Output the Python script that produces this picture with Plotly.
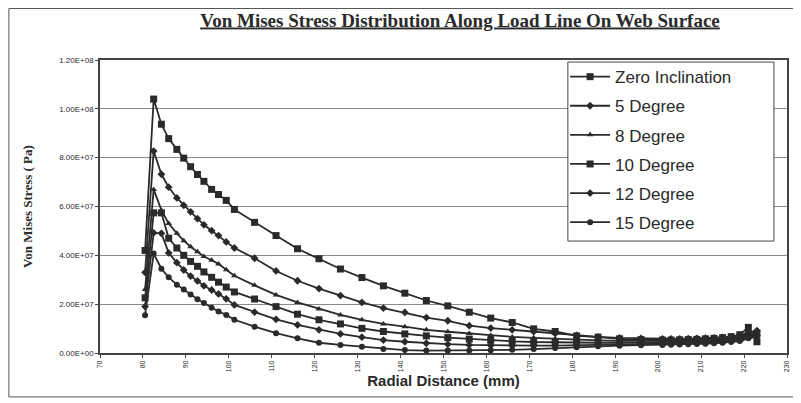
import plotly.graph_objects as go

# Radial distance (mm)
radial_mm = [80.5, 82.5, 84.3, 86, 87.9, 89.5, 91.1, 92.7, 94.2, 96, 97.6, 99.4, 101.3,
             106, 111, 116, 121, 126, 131, 136, 141, 146, 151, 156, 161, 166, 171, 176,
             181, 186, 191, 196, 201, 203, 205, 207, 209, 211, 213, 215, 217, 219, 221, 223]

# Von Mises stress (Pa)
zero_incl = [4.2e7, 10.4e7, 9.37e7, 8.78e7, 8.34e7, 7.98e7, 7.63e7, 7.31e7, 7.03e7, 6.70e7, 6.49e7,
             6.25e7, 5.88e7, 5.35e7, 4.81e7, 4.27e7, 3.86e7, 3.44e7, 3.09e7, 2.75e7, 2.45e7, 2.15e7,
             1.93e7, 1.67e7, 1.43e7, 1.25e7, 0.99e7, 0.88e7, 0.70e7, 0.65e7, 0.58e7, 0.55e7, 0.53e7,
             0.53e7, 0.54e7, 0.55e7, 0.56e7, 0.58e7, 0.60e7, 0.63e7, 0.67e7, 0.75e7, 1.05e7, 0.46e7]
deg5 = [3.3e7, 8.27e7, 7.32e7, 6.79e7, 6.35e7, 6.05e7, 5.78e7, 5.50e7, 5.25e7, 5.01e7, 4.81e7,
        4.55e7, 4.30e7, 3.88e7, 3.36e7, 2.96e7, 2.64e7, 2.35e7, 2.07e7, 1.84e7, 1.66e7, 1.45e7,
        1.32e7, 1.12e7, 1.02e7, 0.95e7, 0.88e7, 0.80e7, 0.72e7, 0.66e7, 0.62e7, 0.60e7, 0.58e7,
        0.58e7, 0.58e7, 0.59e7, 0.60e7, 0.61e7, 0.62e7, 0.64e7, 0.66e7, 0.70e7, 0.85e7, 0.92e7]
deg8 = [2.6e7, 6.7e7, 5.85e7, 5.3e7, 4.9e7, 4.6e7, 4.35e7, 4.15e7, 3.95e7, 3.8e7, 3.65e7,
        3.41e7, 3.16e7, 2.77e7, 2.38e7, 2.07e7, 1.80e7, 1.56e7, 1.36e7, 1.19e7, 1.08e7, 0.95e7,
        0.87e7, 0.80e7, 0.72e7, 0.66e7, 0.62e7, 0.58e7, 0.55e7, 0.52e7, 0.50e7, 0.50e7, 0.50e7,
        0.50e7, 0.51e7, 0.52e7, 0.53e7, 0.54e7, 0.55e7, 0.57e7, 0.60e7, 0.64e7, 0.78e7, 0.84e7]
deg10 = [2.26e7, 5.74e7, 5.74e7, 4.7e7, 4.3e7, 4.0e7, 3.75e7, 3.55e7, 3.32e7, 3.1e7, 2.9e7,
         2.7e7, 2.5e7, 2.21e7, 1.90e7, 1.59e7, 1.36e7, 1.19e7, 1.01e7, 0.88e7, 0.78e7, 0.70e7,
         0.63e7, 0.57e7, 0.52e7, 0.48e7, 0.45e7, 0.43e7, 0.42e7, 0.42e7, 0.42e7, 0.43e7, 0.44e7,
         0.45e7, 0.46e7, 0.47e7, 0.48e7, 0.49e7, 0.50e7, 0.52e7, 0.55e7, 0.59e7, 0.72e7, 0.78e7]
deg12 = [1.9e7, 4.92e7, 4.9e7, 4.1e7, 3.7e7, 3.4e7, 3.15e7, 2.95e7, 2.75e7, 2.58e7, 2.42e7,
         2.22e7, 1.97e7, 1.67e7, 1.38e7, 1.15e7, 0.95e7, 0.78e7, 0.65e7, 0.53e7, 0.46e7, 0.40e7,
         0.36e7, 0.33e7, 0.31e7, 0.30e7, 0.30e7, 0.30e7, 0.31e7, 0.33e7, 0.35e7, 0.37e7, 0.38e7,
         0.39e7, 0.40e7, 0.41e7, 0.42e7, 0.43e7, 0.45e7, 0.47e7, 0.50e7, 0.54e7, 0.66e7, 0.72e7]
deg15 = [1.55e7, 4.07e7, 3.45e7, 3.1e7, 2.8e7, 2.6e7, 2.4e7, 2.2e7, 2.05e7, 1.85e7, 1.70e7,
         1.56e7, 1.36e7, 1.08e7, 0.81e7, 0.60e7, 0.42e7, 0.33e7, 0.26e7, 0.16e7, 0.12e7, 0.10e7,
         0.10e7, 0.10e7, 0.11e7, 0.13e7, 0.16e7, 0.20e7, 0.24e7, 0.28e7, 0.30e7, 0.32e7, 0.33e7,
         0.34e7, 0.35e7, 0.36e7, 0.37e7, 0.38e7, 0.40e7, 0.42e7, 0.45e7, 0.49e7, 0.60e7, 0.66e7]

series_names = ["Zero Inclination", "5 Degree", "8 Degree", "10 Degree", "12 Degree", "15 Degree"]
series_values = [zero_incl, deg5, deg8, deg10, deg12, deg15]
series_symbols = ["square", "diamond", "triangle-up", "square", "diamond", "circle"]
series_sizes = [7, 6, 6, 7, 6, 6]

x_ticks = list(range(70, 231, 10))
y_ticks = [0, 2e7, 4e7, 6e7, 8e7, 1e8, 1.2e8]
y_ticklabels = [f"{v:.2E}" for v in y_ticks]

ink = "#2a2a2a"

fig = go.Figure()
for i, (name, vals, sym, sz) in enumerate(zip(series_names, series_values, series_symbols, series_sizes)):
    fig.add_trace(go.Scatter(
        x=radial_mm, y=vals, name=name, mode="lines+markers",
        line=dict(color=ink, width=1.8),
        marker=dict(symbol=sym, size=sz, color=ink),
        legendgroup=f"g{i}",
    ))

fig.update_layout(
    width=793, height=395,
    margin=dict(l=92, r=11, t=52, b=50),
    paper_bgcolor="white", plot_bgcolor="white",
    title=dict(
        text="<b><u>Von Mises Stress Distribution Along Load Line On Web Surface</u></b>",
        font=dict(family="Liberation Serif", size=19, color=ink),
        x=0.570, xanchor="center", y=0.97, yanchor="middle",
    ),
    showlegend=True,
    legend=dict(
        x=0.677, xanchor="left", y=1.003, yanchor="top",
        bgcolor="rgba(0,0,0,0)", borderwidth=0,
        font=dict(family="Liberation Sans", size=17, color=ink),
        tracegroupgap=4, itemwidth=40,
    ),
    xaxis=dict(
        range=[70, 230], tickvals=x_ticks, ticktext=[str(t) for t in x_ticks],
        tickangle=-90, tickfont=dict(family="Liberation Sans", size=7, color=ink),
        showgrid=False, zeroline=False, showline=True, linecolor="#444", linewidth=1.5,
        mirror=True, ticks="outside", ticklen=3, tickcolor="#444",
        title=dict(text="<b>Radial Distance (mm)</b>",
                   font=dict(family="Liberation Sans", size=15, color=ink), standoff=0),
    ),
    yaxis=dict(
        range=[0, 1.2e8], tickvals=y_ticks, ticktext=y_ticklabels,
        tickfont=dict(family="Liberation Sans", size=8, color=ink),
        showgrid=True, gridcolor="#8a8a8a", gridwidth=1,
        zeroline=False, showline=True, linecolor="#444", linewidth=1.5,
        mirror=True, ticks="outside", ticklen=3, tickcolor="#444",
        title=dict(text="<b>Von Mises Stress ( Pa)</b>",
                   font=dict(family="Liberation Serif", size=13, color=ink), standoff=24),
    ),
    shapes=[
        dict(type="rect", xref="paper", yref="paper",
             x0=-0.1326, x1=1.0101, y0=-0.150, y1=1.1758,
             line=dict(color="#555", width=1), layer="below"),
        dict(type="rect", xref="paper", yref="paper",
             x0=0.681, x1=0.981, y0=0.382, y1=0.993,
             line=dict(color="#444", width=1), fillcolor="white", layer="above"),
    ],
)

fig.write_html("out.html")
